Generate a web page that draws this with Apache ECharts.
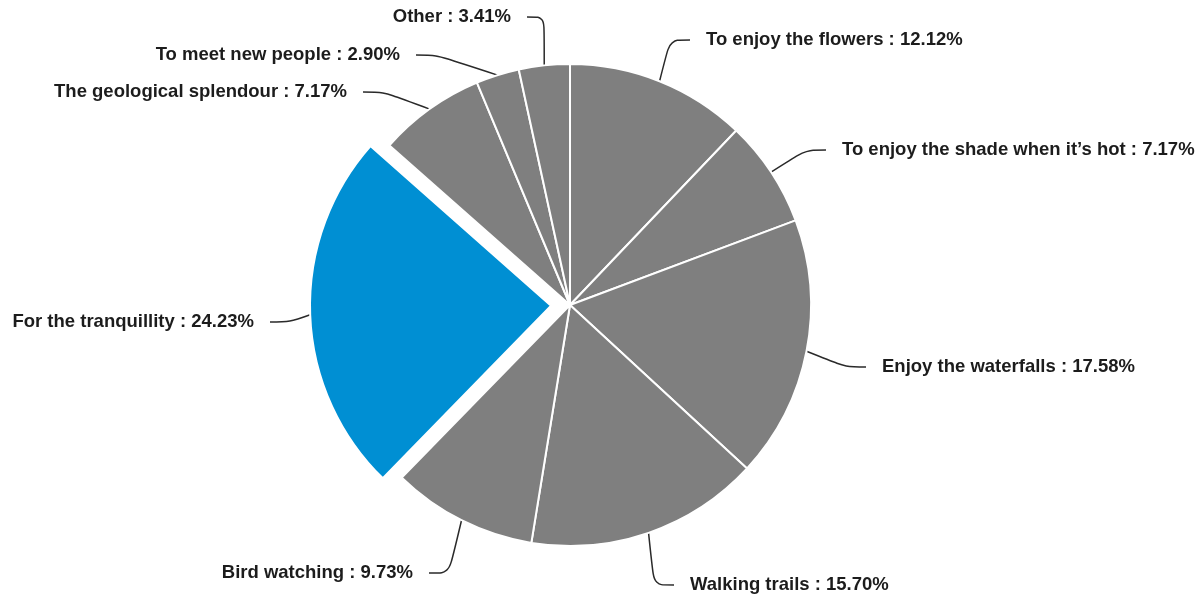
<!DOCTYPE html>
<html>
<head>
<meta charset="utf-8">
<script src="https://cdn.jsdelivr.net/npm/echarts@6/dist/echarts.min.js"></script>
<style>
  html, body { margin: 0; padding: 0; background: #fff; }
  #chart { width: 1198px; height: 596px; }
</style>
</head>
<body>
<div id="chart"></div>
<script>
// Reasons for visiting, share of responses (%)
const categories = [
  'To enjoy the flowers',
  'To enjoy the shade when it\u2019s hot',
  'Enjoy the waterfalls',
  'Walking trails',
  'Bird watching',
  'For the tranquillity',
  'The geological splendour',
  'To meet new people',
  'Other'
];
const shares = [12.12, 7.17, 17.58, 15.70, 9.73, 24.23, 7.17, 2.90, 3.41];
const highlighted = 'For the tranquillity';

// Where each label box is anchored on the page: [x, y, text alignment]
const labelSpots = [
  [690, 40, 'left'],
  [826, 150, 'left'],
  [866, 367, 'left'],
  [674, 585, 'left'],
  [429, 573, 'right'],
  [270, 322, 'right'],
  [363, 92, 'right'],
  [416, 55, 'right'],
  [527, 17, 'right']
];

const GREY = '#7f7f7f';
const BLUE = '#008fd3';
const CENTER = [570, 305];
const RADIUS = 241;
const PULL = 19; // how far the highlighted wedge is pulled out

// direction of the highlighted wedge's bisector (clockwise from 12 o'clock)
const total = shares.reduce((a, b) => a + b, 0);
const hi = categories.indexOf(highlighted);
const before = shares.slice(0, hi).reduce((a, b) => a + b, 0);
const midAngle = ((before + shares[hi] / 2) / total) * 2 * Math.PI;
const pulledCenter = [CENTER[0] + PULL * Math.sin(midAngle), CENTER[1] - PULL * Math.cos(midAngle)];

const hidden = {
  itemStyle: { color: 'rgba(0,0,0,0)', borderColor: 'rgba(0,0,0,0)', borderWidth: 0 },
  label: { show: false },
  labelLine: { show: false }
};

// main pie: every wedge except the highlighted one
const baseData = categories.map((name, i) => Object.assign(
  { name, value: shares[i] },
  name === highlighted ? hidden : { itemStyle: { color: GREY } }
));
// pulled-out pie: only the highlighted wedge is drawn
const liftedData = categories.map((name, i) => Object.assign(
  { name, value: shares[i] },
  name === highlighted ? { itemStyle: { color: BLUE } } : hidden
));

const labelOpt = {
  show: true,
  position: 'outside',
  // an empty spacer box keeps the leader line clear of the text
  formatter: p => {
    const text = p.name + ' : ' + p.value.toFixed(2) + '%';
    return labelSpots[p.dataIndex][2] === 'left' ? '{gap|}' + text : text + '{gap|}';
  },
  fontFamily: 'Liberation Sans, Arial, sans-serif',
  fontWeight: 'bold',
  fontSize: 18.5,
  color: '#1c1c1c',
  rich: { gap: { width: 16 } }
};
const labelLineOpt = {
  show: true,
  length: 18,
  length2: 20,
  smooth: 0.3,
  lineStyle: { color: '#2a2a2a', width: 1.5 }
};
const placeLabel = params => {
  const s = labelSpots[params.dataIndex];
  return { x: s[0], y: s[1], align: s[2], verticalAlign: 'middle' };
};

const common = {
  type: 'pie',
  radius: [0, RADIUS],
  startAngle: 90,
  clockwise: true,
  avoidLabelOverlap: false,
  silent: true,
  emphasis: { disabled: true },
  itemStyle: { borderColor: '#ffffff', borderWidth: 2 },
  label: labelOpt,
  labelLine: labelLineOpt,
  labelLayout: placeLabel
};

const chart = echarts.init(document.getElementById('chart'), null, { renderer: 'canvas' });
chart.setOption({
  animation: false,
  backgroundColor: '#ffffff',
  series: [
    Object.assign({}, common, { name: 'base', center: CENTER, data: baseData }),
    Object.assign({}, common, { name: 'lifted', center: pulledCenter, data: liftedData })
  ]
});
</script>
</body>
</html>
